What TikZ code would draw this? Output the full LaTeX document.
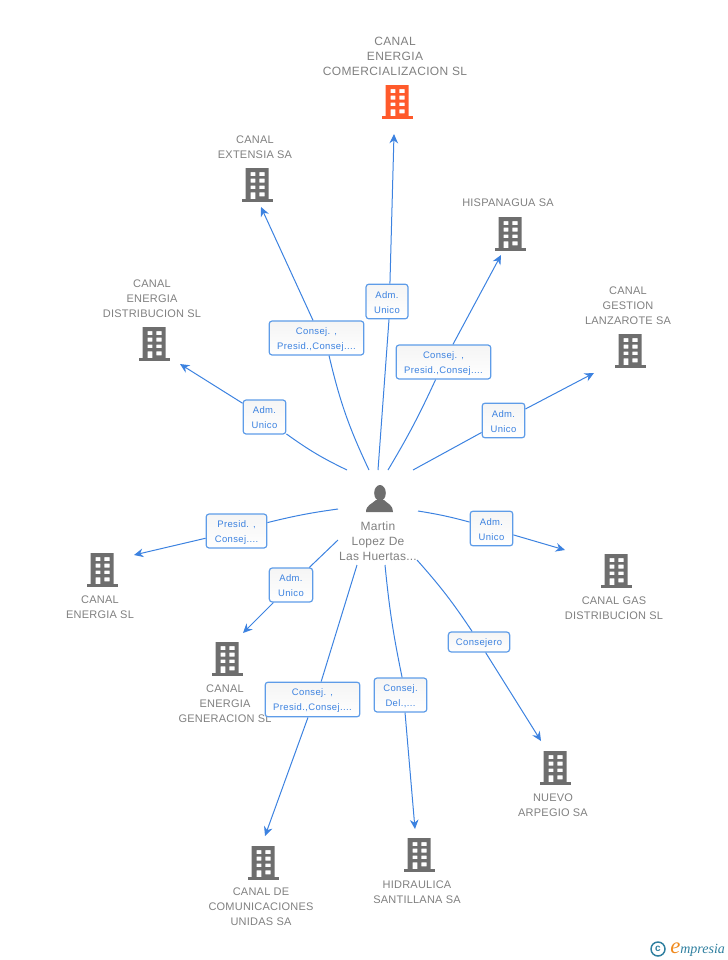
\documentclass[tikz,border=0pt]{standalone}
\usepackage{fontspec}
\setmainfont{Liberation Sans}
\newfontfamily\capfont[LetterSpace=2]{Liberation Sans}
\newfontfamily\topfont[LetterSpace=3]{Liberation Sans}
\newfontfamily\boxfont[LetterSpace=4]{Liberation Sans}
\newfontfamily\logofont{Liberation Serif}
\usetikzlibrary{arrows.meta}
\definecolor{bldgrey}{HTML}{6E6E6E}
\definecolor{bldorange}{HTML}{FF5A2B}
\definecolor{txtgrey}{HTML}{808080}
\definecolor{linkblue}{HTML}{3C82E0}
\definecolor{boxblue}{HTML}{5E9CE8}
\definecolor{logoteal}{HTML}{2F7F9F}
\definecolor{logoorange}{HTML}{F08A1E}
\tikzset{
  building/.pic={
    \fill[pic actions, even odd rule]
      (-11.5,-17) rectangle (11.5,14)
      (-6.3,-13) rectangle (-1.7,-9) (2.3,-13) rectangle (7.7,-9)
      (-6.3,-6.3) rectangle (-1.7,-2.3) (2.3,-6.3) rectangle (7.7,-2.3)
      (-6.3,0.7) rectangle (-1.7,4) (2.3,0.7) rectangle (7.7,4)
      (-6.3,7.3) rectangle (-1.7,14) (2.3,7.3) rectangle (7.7,11.3);
    \fill[pic actions] (-15.5,14) rectangle (15.5,17);
  }
}
\begin{document}
\begin{tikzpicture}[x=0.75pt,y=-0.75pt]
    \tikzstyle{firm}=[align=center, inner sep=0pt, text=txtgrey, font=\capfont\fontsize{8.25}{11.25}\selectfont];
    \tikzstyle{role}=[draw=boxblue, line width=0.9pt, rounded corners=2.2pt, top color=black!4, bottom color=white, align=center, inner sep=0pt, text=linkblue, text height=18pt, font=\boxfont\fontsize{7.1}{11.25}\selectfont];
    \tikzstyle{link}=[draw=linkblue, line width=0.75pt];
    \tikzstyle{arrow}=[link, -{Stealth[length=7pt,width=6.5pt]}];
    \useasboundingbox (0,0) rectangle (728,960);

    \node[firm, font=\topfont\fontsize{9}{11.25}\selectfont] (COM) at (395,56) {CANAL\\ENERGIA\\COMERCIALIZACION SL};
    \node[firm] (EXT) at (255,147) {CANAL\\EXTENSIA SA};
    \node[firm] (HIS) at (508,203) {HISPANAGUA SA};
    \node[firm] (DIS) at (152,299) {CANAL\\ENERGIA\\DISTRIBUCION SL};
    \node[firm] (GES) at (628,306) {CANAL\\GESTION\\LANZAROTE SA};
    \node[firm] (ENE) at (100,607) {CANAL\\ENERGIA SL};
    \node[firm] (GAS) at (614,608) {CANAL GAS\\DISTRIBUCION SL};
    \node[firm] (GEN) at (225,704) {CANAL\\ENERGIA\\GENERACION SL};
    \node[firm] (NUE) at (553,805) {NUEVO\\ARPEGIO SA};
    \node[firm] (UNI) at (261,907) {CANAL DE\\COMUNICACIONES\\UNIDAS SA};
    \node[firm] (HID) at (417,892) {HIDRAULICA\\SANTILLANA SA};

    \pic[fill=bldorange] at (397,102) {building};
    \pic[fill=bldgrey] at (257,185) {building};
    \pic[fill=bldgrey] at (510,234) {building};
    \pic[fill=bldgrey] at (154,344) {building};
    \pic[fill=bldgrey] at (630,351) {building};
    \pic[fill=bldgrey] at (102,570) {building};
    \pic[fill=bldgrey] at (616,571) {building};
    \pic[fill=bldgrey] at (227,659) {building};
    \pic[fill=bldgrey] at (555,768) {building};
    \pic[fill=bldgrey] at (263,863) {building};
    \pic[fill=bldgrey] at (419,855) {building};

    \fill[bldgrey] (380,493) ellipse (5.8 and 8);
    \fill[bldgrey] (366,512) .. controls (366,505) and (372,504) .. (376,500) -- (384,500) .. controls (388,504) and (393,505) .. (393,512) -- cycle;
    \node[firm, font=\capfont\fontsize{9}{11.25}\selectfont] (M) at (378,541) {Martin\\Lopez De\\Las Huertas...};

    \node[role, minimum width=31.5pt, minimum height=26pt] (aCOM) at (387,301.5) {Adm.\\Unico};
    \node[role, minimum width=71pt, minimum height=25.5pt] (aEXT) at (316.5,338) {Consej. ,\\Presid.,Consej....};
    \node[role, minimum width=71pt, minimum height=25.5pt] (aHIS) at (443.5,362) {Consej. ,\\Presid.,Consej....};
    \node[role, minimum width=32pt, minimum height=25.5pt] (aDIS) at (264.5,417) {Adm.\\Unico};
    \node[role, minimum width=32pt, minimum height=26pt] (aGES) at (503.5,420.5) {Adm.\\Unico};
    \node[role, minimum width=45.5pt, minimum height=25.5pt] (aENE) at (236.5,531) {Presid. ,\\Consej....};
    \node[role, minimum width=32pt, minimum height=26pt] (aGAS) at (491.5,528.5) {Adm.\\Unico};
    \node[role, minimum width=32.5pt, minimum height=25.5pt] (aGEN) at (291,585) {Adm.\\Unico};
    \node[role, minimum width=71pt, minimum height=26pt] (aUNI) at (312.5,699.5) {Consej. ,\\Presid.,Consej....};
    \node[role, minimum width=39.5pt, minimum height=25.5pt] (aHID) at (400.5,695) {Consej.\\Del.,...};
    \node[role, text height=6pt, minimum width=46pt, minimum height=15pt] (aNUE) at (479,642) {Consejero};

    \coordinate (sCOM) at (378,470);
    \coordinate (sEXT) at (369,470);
    \coordinate (sHIS) at (388,470);
    \coordinate (sDIS) at (347,470);
    \coordinate (sGES) at (413,470);
    \coordinate (sENE) at (338,509);
    \coordinate (sGAS) at (418,511);
    \coordinate (sGEN) at (338,540);
    \coordinate (sUNI) at (357,565);
    \coordinate (sHID) at (385,565);
    \coordinate (sNUE) at (417,560);
    \coordinate (tCOM) at (394,134);
    \coordinate (tEXT) at (261,207);
    \coordinate (tHIS) at (501,255);
    \coordinate (tDIS) at (180,364);
    \coordinate (tGES) at (594,373);
    \coordinate (tENE) at (134,555);
    \coordinate (tGAS) at (565,550);
    \coordinate (tGEN) at (243,633);
    \coordinate (tUNI) at (265,836);
    \coordinate (tHID) at (415,829);
    \coordinate (tNUE) at (541,741);

    \draw[link] (sCOM) -- ([xshift=1.5pt]aCOM.south);
    \draw[link] (sEXT) to[bend left=6] ([xshift=9.4pt]aEXT.south);
    \draw[link] (sHIS) to[bend right=3] (aHIS);
    \draw[link] (sDIS) to[bend left=5] (aDIS);
    \draw[link] (sGES) -- (aGES);
    \draw[link] (sENE) to[bend right=3] (aENE);
    \draw[link] (sGAS) to[bend left=3] (aGAS);
    \draw[link] (sGEN) -- (aGEN);
    \draw[link] (sUNI) -- ([xshift=6.5pt]aUNI.north);
    \draw[link] (sHID) to[bend right=3] ([xshift=1.2pt]aHID.north);
    \draw[link] (sNUE) to[bend left=4] (aNUE);

    \draw[arrow] ([xshift=2.2pt]aCOM.north) -- (tCOM);
    \draw[arrow] ([xshift=-2.6pt]aEXT.north) -- (tEXT);
    \draw[arrow] (aHIS) -- (tHIS);
    \draw[arrow] (aDIS) -- (tDIS);
    \draw[arrow] (aGES) -- (tGES);
    \draw[arrow] (aENE) -- (tENE);
    \draw[arrow] (aGAS) -- (tGAS);
    \draw[arrow] (aGEN) -- (tGEN);
    \draw[arrow] ([xshift=-3.4pt]aUNI.south) -- (tUNI);
    \draw[arrow] ([xshift=3.4pt]aHID.south) -- (tHID);
    \draw[arrow] (aNUE) -- (tNUE);

    \node[circle, draw=logoteal, line width=1.1pt, minimum size=10.5pt, inner sep=0pt, text=logoteal, font=\bfseries\fontsize{7.5}{7.5}\selectfont] (C) at (658,949) {c};
    \node[inner sep=0pt, anchor=west, text=logoteal, font=\logofont\itshape\fontsize{10.5}{11}\selectfont] (L) at (670,950) {{\color{logoorange}\fontsize{17}{17}\selectfont e}mpresia};
  \end{tikzpicture}
\end{document}
